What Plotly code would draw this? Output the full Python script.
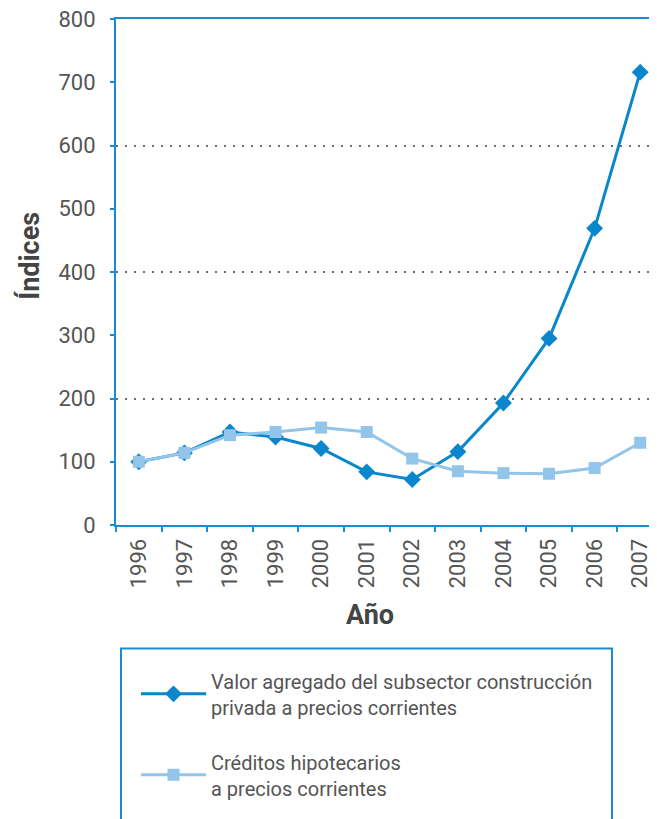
import plotly.graph_objects as go

years = ["1996", "1997", "1998", "1999", "2000", "2001", "2002", "2003", "2004", "2005", "2006", "2007"]
valor_agregado = [100, 114, 147, 139, 121, 84, 72, 116, 193, 295, 469, 716]
creditos = [100, 114, 142, 147, 154, 147, 105, 85, 82, 81, 90, 130]
y_ticks = [0, 100, 200, 300, 400, 500, 600, 700, 800]
grid_vals = [200, 400, 600]

name1 = "Valor agregado del subsector construcción<br>privada a precios corrientes"
name2 = "Créditos hipotecarios<br>a precios corrientes"

DARK = "#0A87CC"
LIGHT = "#93C4E9"
AXIS = "#1A8CD4"
TXT = "#555555"
FONT = "Roboto"

# page offset (browser body margin)
OFF = 8
W, H = 657 - OFF, 819 - OFF
# target pixel positions in the final picture
PL, PT, PB, PR = 116, 19, 525.5, 663
L = PL - OFF
T = PT - OFF
B = H - (PB - OFF)
R = 0
PW = W - L - R
PH = H - T - B

def px_x(px):
    return (px - OFF - L) / PW

def px_y(py):
    return (PB - py) / PH

fig = go.Figure()
fig.add_trace(go.Scatter(x=years, y=valor_agregado, name=name1, mode="lines+markers",
                         legendgroup="a",
                         line=dict(color=DARK, width=3),
                         marker=dict(symbol="diamond", size=13, color=DARK)))
fig.add_trace(go.Scatter(x=years, y=creditos, name=name2, mode="lines+markers",
                         legendgroup="b",
                         line=dict(color=LIGHT, width=3),
                         marker=dict(symbol="square", size=12, color=LIGHT)))

cat_w = (PR - PL) / 12.0

fig.update_layout(
    width=W, height=H,
    margin=dict(l=L, r=R, t=T, b=B, pad=0),
    paper_bgcolor="white", plot_bgcolor="white",
    font=dict(family=FONT, color=TXT, size=22),
    xaxis=dict(type="category", range=[-0.5, -0.5 + PW / cat_w],
               tickson="boundaries", ticks="outside", ticklen=5, tickwidth=2, tickcolor=AXIS,
               tickangle=-90, showline=True, linecolor=AXIS, linewidth=2, mirror=True,
               showgrid=False, tickfont=dict(size=22, color=TXT, family=FONT),
               ticklabelstandoff=3, ticklabeloverflow="allow"),
    yaxis=dict(range=[0, 800], tickvals=y_ticks, ticks="outside", ticklen=4, tickwidth=2,
               tickcolor=AXIS, showline=True, linecolor=AXIS, linewidth=2, mirror=False,
               showgrid=False, zeroline=False,
               tickfont=dict(size=22, color=TXT, family=FONT), ticklabelstandoff=10,
               ticklabeloverflow="allow",
               minor=dict(tickvals=grid_vals, showgrid=True, gridcolor="#6E6E6E",
                          gridwidth=1.5, griddash="2px,7px", ticks="")),
    showlegend=True,
    legend=dict(x=px_x(136), y=px_y(662), xanchor="left", yanchor="top",
                bgcolor="rgba(0,0,0,0)", borderwidth=0,
                font=dict(size=20, color=TXT, family=FONT),
                tracegroupgap=26, itemwidth=65, traceorder="grouped"),
    shapes=[dict(type="rect", xref="paper", yref="paper",
                 x0=px_x(121), x1=px_x(612), y0=px_y(649), y1=px_y(850),
                 line=dict(color=AXIS, width=2), fillcolor="rgba(0,0,0,0)")],
    annotations=[
        dict(text="<b>Índices</b>", xref="paper", yref="paper", x=px_x(30), y=px_y(256),
             xanchor="center", yanchor="middle", textangle=-90, showarrow=False,
             font=dict(size=27, color="#444444", family=FONT)),
        dict(text="<b>Año</b>", xref="paper", yref="paper", x=px_x(370), y=px_y(616),
             xanchor="center", yanchor="middle", showarrow=False,
             font=dict(size=27, color="#444444", family=FONT)),
    ],
)

fig.write_html("out.html")
